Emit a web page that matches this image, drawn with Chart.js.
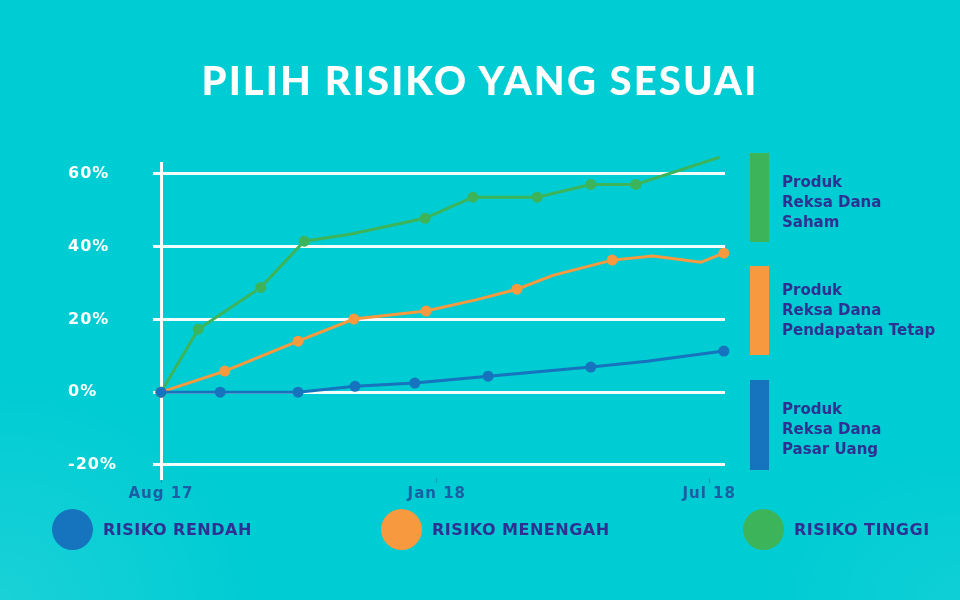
<!DOCTYPE html>
<html><head><meta charset="utf-8">
<script src="https://cdn.jsdelivr.net/npm/chart.js@4"></script>
<style>
html,body{margin:0;padding:0;}
body{width:960px;height:600px;overflow:hidden;background:#00CCD3;position:relative;font-family:"DejaVu Sans",sans-serif;}
#bg{position:absolute;left:0;top:0;width:960px;height:600px;background:
 radial-gradient(ellipse 260px 220px at 0% 100%, rgba(255,255,255,0.10), rgba(255,255,255,0) 100%),
 radial-gradient(ellipse 200px 150px at 100% 100%, rgba(255,255,255,0.06), rgba(255,255,255,0) 100%);}
#c{position:absolute;left:0;top:0;}
#title{position:absolute;left:0;width:960px;top:57px;text-align:center;color:#fff;font-family:Lato,sans-serif;font-weight:900;font-size:40px;letter-spacing:2.1px;line-height:46px;}
.bar{position:absolute;left:750px;width:19px;}
.ptext{position:absolute;left:782px;color:#2E3192;font-weight:700;font-size:15px;line-height:20px;}
.leg{position:absolute;top:509px;height:41px;display:flex;align-items:center;}
.dot{width:41px;height:41px;border-radius:50%;margin-right:10px;flex:none;}
.leg span{color:#2E3192;font-weight:700;font-size:16px;letter-spacing:0.5px;white-space:nowrap;}
</style>
</head><body>
<div id="bg"></div>
<canvas id="c" width="960" height="600"></canvas>
<div id="title">PILIH RISIKO YANG SESUAI</div>

<div class="bar" style="top:153px;height:89px;background:#3CB55A"></div>
<div class="ptext" style="top:172px">Produk<br>Reksa Dana<br>Saham</div>
<div class="bar" style="top:266px;height:89px;background:#F7993F"></div>
<div class="ptext" style="top:280px">Produk<br>Reksa Dana<br>Pendapatan Tetap</div>
<div class="bar" style="top:380px;height:90px;background:#1673BD"></div>
<div class="ptext" style="top:399px">Produk<br>Reksa Dana<br>Pasar Uang</div>

<div class="leg" style="left:52px"><div class="dot" style="background:#1673BD"></div><span>RISIKO RENDAH</span></div>
<div class="leg" style="left:381px"><div class="dot" style="background:#F7993F"></div><span>RISIKO MENENGAH</span></div>
<div class="leg" style="left:743px"><div class="dot" style="background:#3CB55A"></div><span>RISIKO TINGGI</span></div>

<script>
// Timeline position (0 = Aug 17, 100 = end of axis)
const tickPositions = [0, 48.9, 97.2];
const tickLabels = ['Aug 17', 'Jan 18', 'Jul 18'];
const yTicks = [-20, 0, 20, 40, 60];

// Risiko Tinggi – Produk Reksa Dana Saham
const greenX = [0, 6.6, 17.7, 25.4, 33.5, 46.8, 55.3, 66.7, 76.2, 84.2, 99.1];
const greenY = [0, 17.3, 28.8, 41.5, 43.4, 47.8, 53.6, 53.6, 57.1, 57.1, 64.6];
// Risiko Menengah – Produk Reksa Dana Pendapatan Tetap
const orangeX = [0, 11.3, 24.3, 34.2, 47.0, 56.2, 63.1, 69.5, 80.0, 87.2, 95.7, 99.8];
const orangeY = [0, 5.8, 14.0, 20.1, 22.3, 25.5, 28.3, 32.1, 36.3, 37.4, 35.7, 38.2];
// Risiko Rendah – Produk Reksa Dana Pasar Uang
const blueX = [0, 10.5, 24.3, 34.4, 45.0, 58.0, 76.2, 86.2, 99.8];
const blueY = [0, 0, 0, 1.6, 2.5, 4.4, 6.9, 8.5, 11.3];

// vertices drawn without a marker
const greenPlain = [4];
const orangePlain = [5, 7, 9, 10];
const bluePlain = [7];

function pts(xs, ys){ return xs.map((x,i)=>({x:x, y:ys[i]})); }
function ds(label, xs, ys, color, plain){
  return {
    label: label, data: pts(xs, ys), borderColor: color, backgroundColor: color,
    borderWidth: 3, tension: 0, clip: false,
    pointRadius: ctx => plain.includes(ctx.dataIndex) ? 0 : 5.5,
    pointHoverRadius: 5.5, pointBorderWidth: 0
  };
}

const spacing = { id: 'spacing', beforeDraw(chart){ chart.ctx.letterSpacing = '1px'; } };

new Chart(document.getElementById('c'), {
  type: 'line',
  plugins: [spacing],
  data: { datasets: [
    ds('Risiko Rendah', blueX, blueY, '#1673BD', bluePlain),
    ds('Risiko Menengah', orangeX, orangeY, '#F7993F', orangePlain),
    ds('Risiko Tinggi', greenX, greenY, '#3CB55A', greenPlain)
  ]},
  options: {
    responsive: false, animation: false,
    layout: { padding: { left: 68, top: 163, right: 235, bottom: 90 } },
    plugins: { legend: { display: false }, tooltip: { enabled: false }, title: { display: false } },
    scales: {
      x: {
        type: 'linear', min: 0, max: 100,
        afterBuildTicks: s => { s.ticks = tickPositions.map(v => ({ value: v })); },
        afterFit: s => { s.height = 32; },
        ticks: { callback: (v, i) => tickLabels[i], color: '#1A5FA3', autoSkip: false, maxRotation: 0, padding: 2,
                 font: { family: 'DejaVu Sans', weight: 'bold', size: 15 } },
        grid: { drawOnChartArea: false, drawTicks: true, tickLength: 5, color: 'rgba(20,70,110,0.35)', lineWidth: 1 },
        border: { display: false }
      },
      y: {
        min: -23.6, max: 63,
        afterBuildTicks: s => { s.ticks = yTicks.map(v => ({ value: v })); },
        afterFit: s => { s.width = 93; },
        ticks: { callback: v => v + '%', color: '#ffffff', crossAlign: 'far', padding: 0,
                 font: { family: 'DejaVu Sans', weight: 'bold', size: 16 } },
        grid: { color: 'rgba(255,255,255,0.95)', lineWidth: 3, tickLength: 8, drawTicks: true },
        border: { color: '#ffffff', width: 3 }
      }
    }
  }
});
</script>
</body></html>
